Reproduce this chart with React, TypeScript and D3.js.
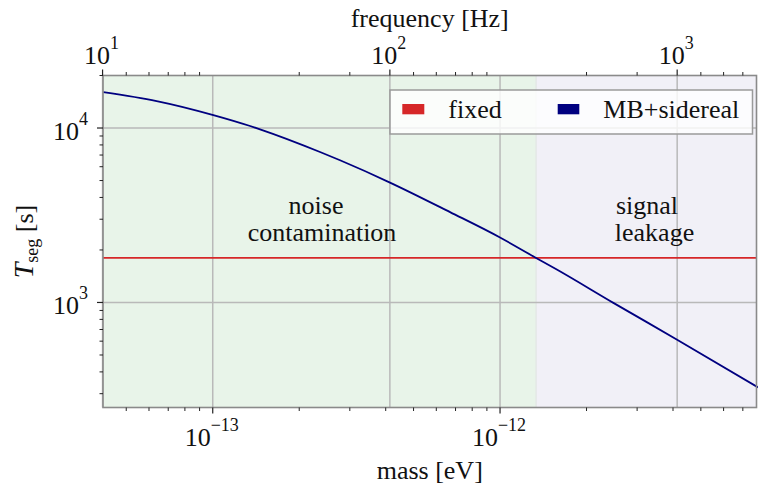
import React from "react";
import * as d3 from "d3";

// ---- data ----
const massEV = [4.16e-14, 6.38e-14, 1.005e-13, 1.349e-13, 1.461e-13, 2.363e-13, 2.774e-13, 4.14e-13, 6.7e-13, 1e-12, 1.335e-12, 1.576e-12, 2.48e-12, 4.12e-12, 7.91e-12];
const tsegMB = [16070, 14280, 11870, 10270, 9830, 7288, 6531, 4867, 3295, 2357, 1800, 1545, 995, 614, 326];
const tsegFixed = 1800;
const boundaryMass = 1.335e-12;
const massDomain = [4.15e-14, 7.81e-12];
const tDomain = [250, 20000];
const hzPerEV = 2.418e14;
const massMajor = [1e-13, 1e-12];
const massMajorExp = ["−13", "−12"];
const freqMajor = [10, 100, 1000];
const freqMajorExp = ["1", "2", "3"];
const tMajor = [1000, 10000];
const tMajorExp = ["3", "4"];
const legendLabels = ["fixed", "MB+sidereal"];
const regionLabels = [["noise", "contamination"], ["signal", "leakage"]];

const W = 758, H = 485;
const L = 103, R = 756.5, T = 75.5, B = 407.5;
const FONT = "'Liberation Serif', 'Times New Roman', serif";

function minorTicks(lo: number, hi: number, skip: number[] = []) {
  const out: number[] = [];
  for (let e = Math.floor(Math.log10(lo)); e <= Math.ceil(Math.log10(hi)); e++) {
    for (let n = 2; n <= 9; n++) {
      const v = n * Math.pow(10, e);
      if (v >= lo && v <= hi && !skip.some((s) => Math.abs(s / v - 1) < 1e-6)) out.push(v);
    }
  }
  return out;
}

export default function App() {
  const x = d3.scaleLog().domain(massDomain).range([L, R]);
  const xf = d3.scaleLog().domain(massDomain.map((m) => m * hzPerEV)).range([L, R]);
  const y = d3.scaleLog().domain(tDomain).range([B, T]);
  const line = d3
    .line<number>()
    .x((_, i) => x(massEV[i]))
    .y((d) => y(d))
    .curve(d3.curveMonotoneX);
  const xb = x(boundaryMass);
  const massMinor = minorTicks(massDomain[0], massDomain[1]);
  const topMinor = minorTicks(massDomain[0], massDomain[1], [4e-13, 4e-12]);
  const tMinor = minorTicks(tDomain[0], tDomain[1]);
  const gridC = "#b9b9b9";
  const spineC = "#8a8a8a";
  const tickC = "#222";
  return (
    <svg width={W} height={H} style={{ position: "absolute", left: 0, top: 0 }} fontFamily={FONT}>
      <style>{"body{margin:0}"}</style>
      <rect x={L} y={T} width={xb - L} height={B - T} fill="#e8f4e9" />
      <rect x={xb} y={T} width={R - xb} height={B - T} fill="#f1f0f7" />
      <line x1={xb} x2={xb} y1={T} y2={B} stroke="#e4e8e6" strokeWidth={1.5} />
      {/* grid */}
      {massMajor.map((m, i) => (
        <line key={"gx" + i} x1={x(m)} x2={x(m)} y1={T} y2={B} stroke={gridC} strokeWidth={1.5} />
      ))}
      {freqMajor.map((f, i) => (
        <line key={"gf" + i} x1={xf(f)} x2={xf(f)} y1={T} y2={B} stroke={gridC} strokeWidth={1.5} />
      ))}
      {tMajor.map((t, i) => (
        <line key={"gy" + i} x1={L} x2={R} y1={y(t)} y2={y(t)} stroke={gridC} strokeWidth={1.5} />
      ))}
      {/* data */}
      <line x1={L} x2={R} y1={y(tsegFixed)} y2={y(tsegFixed)} stroke="#d62728" strokeWidth={1.8} />
      <path d={line(tsegMB) || ""} fill="none" stroke="#000080" strokeWidth={1.8} />
      {/* region labels */}
      <text x={316} y={214} fontSize={26} textAnchor="middle" fill="#111">{regionLabels[0][0]}</text>
      <text x={322} y={240.5} fontSize={26} textAnchor="middle" fill="#111">{regionLabels[0][1]}</text>
      <text x={647} y={214} fontSize={26} textAnchor="middle" fill="#111">{regionLabels[1][0]}</text>
      <text x={654.5} y={240.5} fontSize={26} textAnchor="middle" fill="#111">{regionLabels[1][1]}</text>
      {/* spines */}
      <rect x={L} y={T} width={R - L} height={B - T} fill="none" stroke={spineC} strokeWidth={1.6} />
      {/* bottom ticks */}
      {massMajor.map((m, i) => (
        <g key={"bm" + i}>
          <line x1={x(m)} x2={x(m)} y1={B} y2={B + 6} stroke={tickC} strokeWidth={1.2} />
          <text x={x(m) - 1} y={446} fontSize={26} textAnchor="middle" fill="#111">
            10<tspan dy={-15} fontSize={18}>{massMajorExp[i]}</tspan>
          </text>
        </g>
      ))}
      {massMinor.map((m, i) => (
        <line key={"bn" + i} x1={x(m)} x2={x(m)} y1={B} y2={B + 3.5} stroke={tickC} strokeWidth={1} />
      ))}
      {/* top ticks */}
      {freqMajor.map((f, i) => (
        <g key={"tm" + i}>
          <line x1={xf(f)} x2={xf(f)} y1={T} y2={T - 6} stroke={tickC} strokeWidth={1.2} />
          <text x={xf(f) - 1} y={64} fontSize={26} textAnchor="middle" fill="#111">
            10<tspan dy={-15} fontSize={18}>{freqMajorExp[i]}</tspan>
          </text>
        </g>
      ))}
      {topMinor.map((m, i) => (
        <line key={"tn" + i} x1={x(m)} x2={x(m)} y1={T} y2={T - 3.5} stroke={tickC} strokeWidth={1} />
      ))}
      {/* left ticks */}
      {tMajor.map((t, i) => (
        <g key={"lm" + i}>
          <line x1={L} x2={L - 6} y1={y(t)} y2={y(t)} stroke={tickC} strokeWidth={1.2} />
          <text x={88} y={y(t) + 12} fontSize={26} textAnchor="end" fill="#111">
            10<tspan dy={-15} fontSize={18}>{tMajorExp[i]}</tspan>
          </text>
        </g>
      ))}
      {tMinor.map((t, i) => (
        <line key={"ln" + i} x1={L} x2={L - 3.5} y1={y(t)} y2={y(t)} stroke={tickC} strokeWidth={1} />
      ))}
      {/* axis labels */}
      <text x={(L + R) / 2} y={479} fontSize={26} textAnchor="middle" fill="#111">mass [eV]</text>
      <text x={(L + R) / 2} y={27} fontSize={26} textAnchor="middle" fill="#111">frequency [Hz]</text>
      <text transform={`translate(33,${(T + B) / 2}) rotate(-90)`} fontSize={26} textAnchor="middle" fill="#111">
        <tspan fontStyle="italic" fontSize={28}>T</tspan>
        <tspan dy={5} fontSize={18}>seg</tspan>
        <tspan dy={-5}> [s]</tspan>
      </text>
      {/* legend */}
      <rect x={390} y={90} width={362.5} height={44} fill="#fff" fillOpacity={0.8} stroke="#9a9a9a" strokeWidth={1.5} />
      <rect x={402.3} y={104} width={22} height={10.3} fill="#d62728" />
      <text x={448.3} y={118.3} fontSize={26} fill="#111">{legendLabels[0]}</text>
      <rect x={557.7} y={104} width={21.6} height={10.3} fill="#000080" />
      <text x={603.3} y={118.3} fontSize={26} fill="#111">{legendLabels[1]}</text>
    </svg>
  );
}
